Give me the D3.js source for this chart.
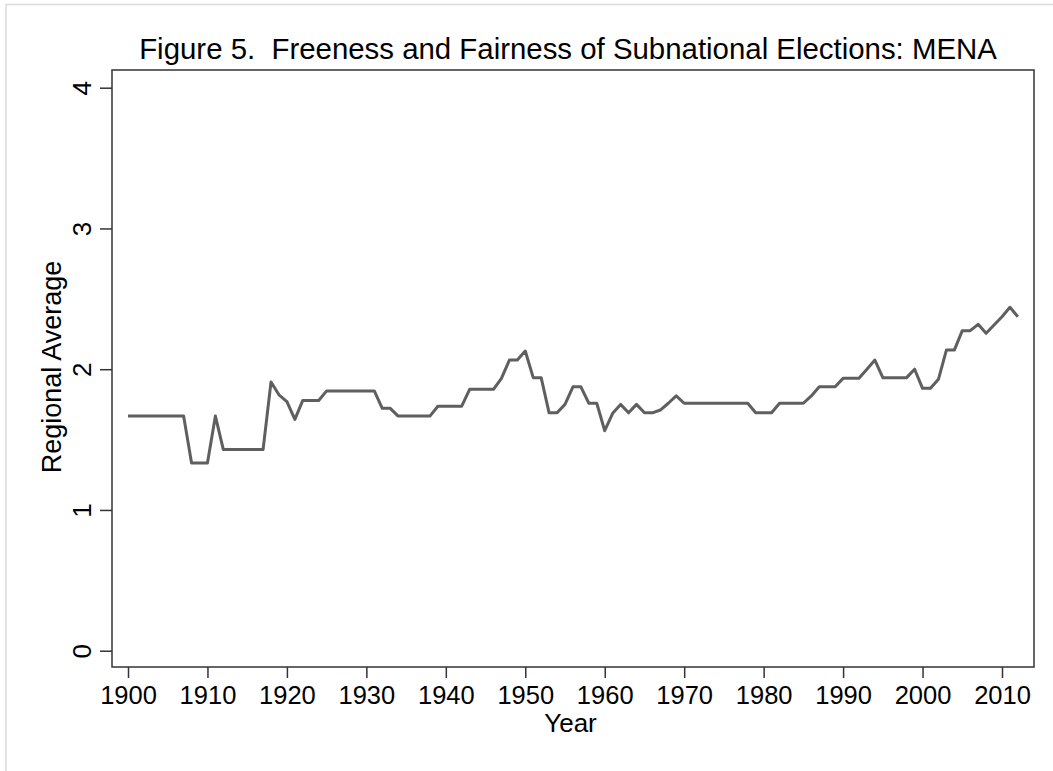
<!DOCTYPE html>
<html>
<head>
<meta charset="utf-8">
<script src="https://cdn.jsdelivr.net/npm/d3@7"></script>
<style>
  body { margin: 0; background: #fff; }
  text { font-family: Arial, "Liberation Sans", sans-serif; fill: #000; }
</style>
</head>
<body>
<script>
// years on the x axis
const years = [
  1900, 1901, 1902, 1903, 1904, 1905, 1906, 1907, 1908, 1909,
  1910, 1911, 1912, 1913, 1914, 1915, 1916, 1917, 1918, 1919,
  1920, 1921, 1922, 1923, 1924, 1925, 1926, 1927, 1928, 1929,
  1930, 1931, 1932, 1933, 1934, 1935, 1936, 1937, 1938, 1939,
  1940, 1941, 1942, 1943, 1944, 1945, 1946, 1947, 1948, 1949,
  1950, 1951, 1952, 1953, 1954, 1955, 1956, 1957, 1958, 1959,
  1960, 1961, 1962, 1963, 1964, 1965, 1966, 1967, 1968, 1969,
  1970, 1971, 1972, 1973, 1974, 1975, 1976, 1977, 1978, 1979,
  1980, 1981, 1982, 1983, 1984, 1985, 1986, 1987, 1988, 1989,
  1990, 1991, 1992, 1993, 1994, 1995, 1996, 1997, 1998, 1999,
  2000, 2001, 2002, 2003, 2004, 2005, 2006, 2007, 2008, 2009,
  2010, 2011, 2012,
];

// regional average
const avg = [
  1.667, 1.667, 1.667, 1.667, 1.667, 1.667, 1.667, 1.667, 1.333, 1.333,
  1.333, 1.667, 1.429, 1.429, 1.429, 1.429, 1.429, 1.429, 1.909, 1.818,
  1.77, 1.643, 1.778, 1.778, 1.778, 1.846, 1.846, 1.846, 1.846, 1.846,
  1.846, 1.846, 1.722, 1.722, 1.667, 1.667, 1.667, 1.667, 1.667, 1.737,
  1.737, 1.737, 1.737, 1.857, 1.857, 1.857, 1.857, 1.935, 2.065, 2.065,
  2.129, 1.94, 1.94, 1.69, 1.69, 1.75, 1.875, 1.875, 1.758, 1.758,
  1.563, 1.687, 1.75, 1.69, 1.75, 1.69, 1.69, 1.71, 1.758, 1.81,
  1.758, 1.758, 1.758, 1.758, 1.758, 1.758, 1.758, 1.758, 1.758, 1.69,
  1.69, 1.69, 1.758, 1.758, 1.758, 1.758, 1.81, 1.875, 1.875, 1.875,
  1.935, 1.935, 1.935, 2.0, 2.065, 1.94, 1.94, 1.94, 1.94, 2.0,
  1.864, 1.864, 1.928, 2.136, 2.136, 2.274, 2.274, 2.319, 2.255, 2.314,
  2.373, 2.44, 2.373,
];

const xTicks = [1900, 1910, 1920, 1930, 1940, 1950, 1960, 1970, 1980, 1990, 2000, 2010];
const yTicks = [0, 1, 2, 3, 4];

const w = 1053;
const h = 771;

// plot box
const box = { left: 112, right: 1034, top: 70, bottom: 667 };

const svg = d3.select('body').append('svg').attr('width', w).attr('height', h);

// faint frame round the graph
svg
  .append('path')
  .attr('d', `M6,${h} V4.5 H${w}`)
  .attr('fill', 'none')
  .attr('stroke', '#dcdcdc')
  .attr('stroke-width', 1.5);

const xScale = d3.scaleLinear().domain([1900, 2010]).range([128, 1002]);
const yScale = d3.scaleLinear().domain([0, 4]).range([650.7, 87.7]);

svg
  .append('rect')
  .attr('x', box.left)
  .attr('y', box.top)
  .attr('width', box.right - box.left)
  .attr('height', box.bottom - box.top)
  .attr('fill', 'none')
  .attr('stroke', '#333')
  .attr('stroke-width', 1.5);

// x axis
const xAxis = d3.axisBottom(xScale).tickValues(xTicks).tickSize(11).tickPadding(8).tickFormat(d3.format('d'));
const gx = svg.append('g').attr('transform', `translate(0,${box.bottom})`).call(xAxis);
gx.select('.domain').remove();
gx.selectAll('.tick line').attr('stroke', '#333').attr('stroke-width', 1.5);
gx.selectAll('.tick text').style('font-size', '25.5px').attr('fill', '#000');

// y axis, labels turned like the original
const yAxis = d3.axisLeft(yScale).tickValues(yTicks).tickSize(12).tickFormat(d3.format('d'));
const gy = svg.append('g').attr('transform', `translate(${box.left},0)`).call(yAxis);
gy.select('.domain').remove();
gy.selectAll('.tick line').attr('stroke', '#333').attr('stroke-width', 1.5);
gy.selectAll('.tick text')
  .style('font-size', '26px')
  .attr('fill', '#000')
  .attr('x', null)
  .attr('dy', null)
  .attr('text-anchor', 'middle')
  .attr('transform', 'translate(-21,0) rotate(-90)');

// the series
const line = d3
  .line()
  .x((d, i) => xScale(years[i]))
  .y((d) => yScale(d));

svg
  .append('path')
  .datum(avg)
  .attr('d', line)
  .attr('fill', 'none')
  .attr('stroke', '#5f5f5f')
  .attr('stroke-width', 3)
  .attr('stroke-linejoin', 'round');

// titles
svg
  .append('text')
  .attr('x', 568)
  .attr('y', 59)
  .attr('text-anchor', 'middle')
  .style('font-size', '29.4px')
  .style('white-space', 'pre')
  .text('Figure 5.  Freeness and Fairness of Subnational Elections: MENA');

svg
  .append('text')
  .attr('x', 570.5)
  .attr('y', 732)
  .attr('text-anchor', 'middle')
  .style('font-size', '26px')
  .text('Year');

svg
  .append('text')
  .attr('transform', 'translate(61,367) rotate(-90)')
  .attr('text-anchor', 'middle')
  .style('font-size', '27px')
  .text('Regional Average');
</script>
</body>
</html>
